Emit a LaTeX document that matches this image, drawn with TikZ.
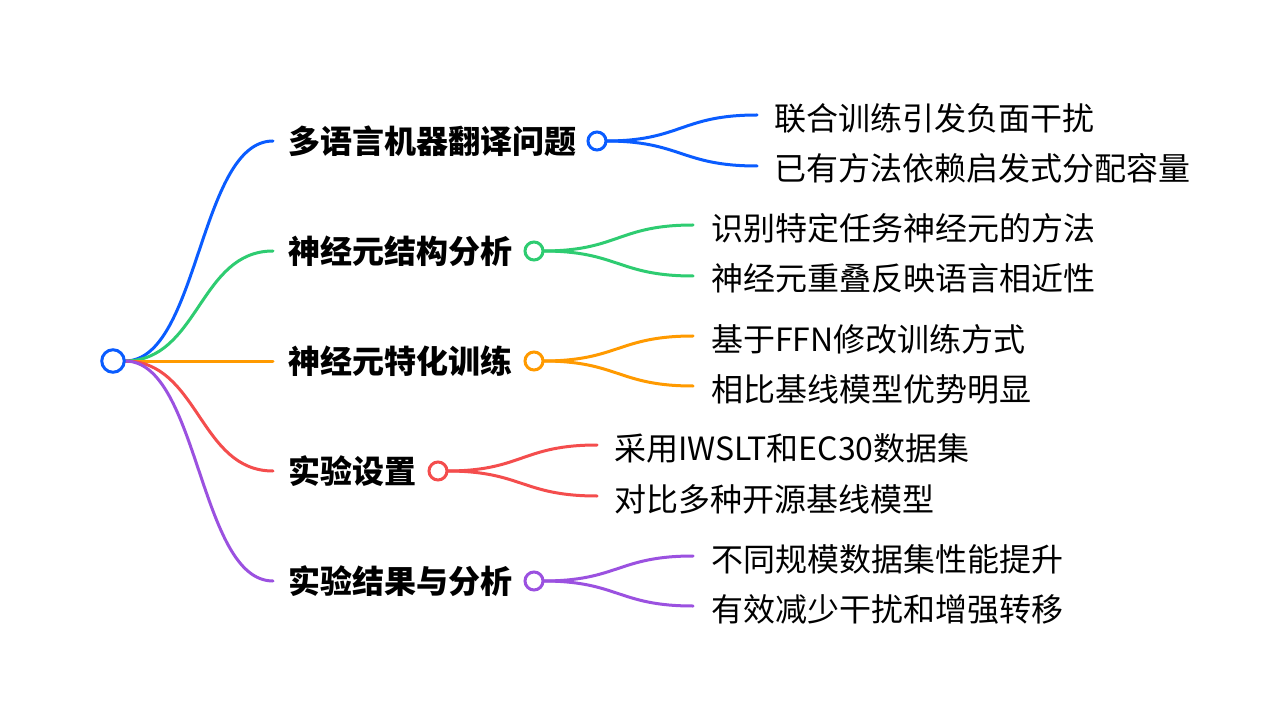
\documentclass[tikz,border=0pt]{standalone}
\usepackage{fontspec}
\setmainfont{Noto Sans CJK SC}
\definecolor{cblue}{HTML}{0A5CFF}
\definecolor{cgreen}{HTML}{2ECC71}
\definecolor{corange}{HTML}{FF9A00}
\definecolor{cred}{HTML}{F44D4D}
\definecolor{cpurple}{HTML}{9B51E0}
\begin{document}
\begin{tikzpicture}[x=1pt,y=-1pt,
  link/.style={line width=3pt, line cap=round},
  dot/.style={circle, fill=white, line width=3pt, minimum size=18pt, inner sep=0pt},
  rootdot/.style={dot, minimum size=22.5pt},
  mainlabel/.style={anchor=west, inner sep=0pt, font=\bfseries\fontsize{32}{32}\selectfont, text height=0.88em, text depth=0.12em},
  leaf/.style={anchor=west, inner sep=0pt, font=\fontsize{32}{32}\selectfont, text height=0.88em, text depth=0.12em}]
\path[use as bounding box, fill=white] (0,0) rectangle (1288,719);

% root
\coordinate (rootc) at (113,361);
% ends of main links
\coordinate (m1) at (273,141);
\coordinate (m2) at (273,251);
\coordinate (m3) at (273,361);
\coordinate (m4) at (273,471);
\coordinate (m5) at (273,581);
% ends of child links
\coordinate (l11) at (757,115);
\coordinate (l12) at (757,166);
\coordinate (l21) at (693,225);
\coordinate (l22) at (693,276);
\coordinate (l31) at (693,336);
\coordinate (l32) at (693,386);
\coordinate (l41) at (597,445);
\coordinate (l42) at (597,496);
\coordinate (l51) at (693,556);
\coordinate (l52) at (693,606);

% main links
\draw[link, cblue]   (125,361) .. controls (199,361) and (199,141) .. (m1);
\draw[link, cgreen]  (125,361) .. controls (199,361) and (199,251) .. (m2);
\draw[link, corange] (125,361) -- (m3);
\draw[link, cred]    (125,361) .. controls (199,361) and (199,471) .. (m4);
\draw[link, cpurple] (125,361) .. controls (199,361) and (199,581) .. (m5);

% child links
\draw[link, cblue]   (606,141) .. controls (681,141) and (681,115) .. (l11);
\draw[link, cblue]   (606,141) .. controls (681,141) and (681,166) .. (l12);
\draw[link, cgreen]  (543,251) .. controls (618,251) and (618,225) .. (l21);
\draw[link, cgreen]  (543,251) .. controls (618,251) and (618,276) .. (l22);
\draw[link, corange] (543,361) .. controls (618,361) and (618,336) .. (l31);
\draw[link, corange] (543,361) .. controls (618,361) and (618,386) .. (l32);
\draw[link, cred]    (447,471) .. controls (522,471) and (522,445) .. (l41);
\draw[link, cred]    (447,471) .. controls (522,471) and (522,496) .. (l42);
\draw[link, cpurple] (543,581) .. controls (618,581) and (618,556) .. (l51);
\draw[link, cpurple] (543,581) .. controls (618,581) and (618,606) .. (l52);

% circles
\node[rootdot, draw=cblue] (root) at (rootc) {};
\node[dot, draw=cblue]   (c1) at (597,141) {};
\node[dot, draw=cgreen]  (c2) at (534,251) {};
\node[dot, draw=corange] (c3) at (534,361) {};
\node[dot, draw=cred]    (c4) at (438,471) {};
\node[dot, draw=cpurple] (c5) at (534,581) {};

% main labels
\node[mainlabel] (t1) at (288,150) {多语言机器翻译问题};
\node[mainlabel] (t2) at (288,260) {神经元结构分析};
\node[mainlabel] (t3) at (288,370) {神经元特化训练};
\node[mainlabel] (t4) at (288,480) {实验设置};
\node[mainlabel] (t5) at (288,590) {实验结果与分析};

% leaves
\node[leaf] (a11) at ([xshift=17pt]l11 |- 0,127) {联合训练引发负面干扰};
\node[leaf] (a12) at ([xshift=17pt]l12 |- 0,177) {已有方法依赖启发式分配容量};
\node[leaf] (a21) at ([xshift=18pt]l21 |- 0,237) {识别特定任务神经元的方法};
\node[leaf] (a22) at ([xshift=18pt]l22 |- 0,287) {神经元重叠反映语言相近性};
\node[leaf] (a31) at ([xshift=18pt]l31 |- 0,348) {基于FFN修改训练方式};
\node[leaf] (a32) at ([xshift=18pt]l32 |- 0,398) {相比基线模型优势明显};
\node[leaf] (a41) at ([xshift=17pt]l41 |- 0,457) {采用IWSLT和EC30数据集};
\node[leaf] (a42) at ([xshift=17pt]l42 |- 0,508) {对比多种开源基线模型};
\node[leaf] (a51) at ([xshift=18pt]l51 |- 0,568) {不同规模数据集性能提升};
\node[leaf] (a52) at ([xshift=18pt]l52 |- 0,618) {有效减少干扰和增强转移};
\end{tikzpicture}
\end{document}
